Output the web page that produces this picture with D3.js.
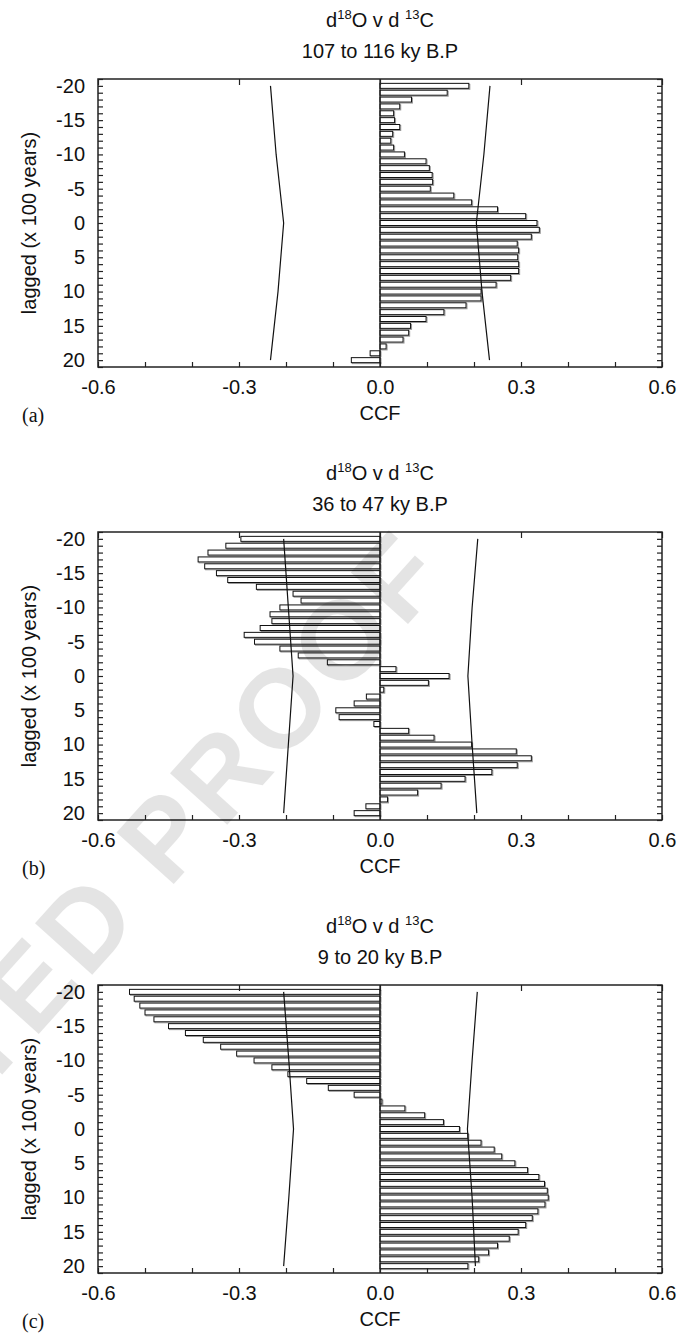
<!DOCTYPE html>
<html>
<head>
<meta charset="utf-8">
<script src="https://cdn.jsdelivr.net/npm/d3@7"></script>
<style>
  body { margin: 0; background: #fff; }
  svg text { font-family: "Liberation Sans", Arial, sans-serif; fill: #111; }
</style>
</head>
<body>
<svg id="chart" width="688" height="1335"></svg>
<script>
// Data.

var lags = [-20, -19, -18, -17, -16, -15, -14, -13, -12, -11, -10, -9, -8, -7, -6, -5, -4, -3, -2, -1,
            0, 1, 2, 3, 4, 5, 6, 7, 8, 9, 10, 11, 12, 13, 14, 15, 16, 17, 18, 19, 20];

// (a) 107 to 116 ky B.P
var ccf_a = [0.189, 0.143, 0.067, 0.042, 0.029, 0.031, 0.042, 0.027, 0.023, 0.029,
             0.052, 0.098, 0.105, 0.111, 0.112, 0.107, 0.157, 0.195, 0.250, 0.310,
             0.334, 0.339, 0.322, 0.292, 0.295, 0.293, 0.295, 0.295, 0.278, 0.247,
             0.215, 0.215, 0.183, 0.136, 0.098, 0.065, 0.061, 0.049, 0.013, -0.021, -0.061];

// (b) 36 to 47 ky B.P
var ccf_b = [-0.296, -0.328, -0.366, -0.387, -0.373, -0.348, -0.324, -0.263, -0.185, -0.168,
             -0.213, -0.234, -0.230, -0.255, -0.289, -0.267, -0.213, -0.174, -0.112, 0.034,
             0.147, 0.103, 0.008, -0.029, -0.055, -0.094, -0.087, -0.013, 0.061, 0.115,
             0.195, 0.290, 0.322, 0.292, 0.238, 0.181, 0.130, 0.080, 0.016, -0.030, -0.055];

// (c) 9 to 20 ky B.P
var ccf_c = [-0.533, -0.523, -0.511, -0.500, -0.481, -0.450, -0.414, -0.376, -0.339, -0.305,
             -0.268, -0.230, -0.196, -0.156, -0.110, -0.055, 0.004, 0.053, 0.095, 0.135,
             0.169, 0.187, 0.215, 0.243, 0.259, 0.287, 0.314, 0.338, 0.350, 0.356,
             0.358, 0.351, 0.336, 0.324, 0.310, 0.294, 0.275, 0.250, 0.231, 0.210, 0.187];

// Confidence limits (the two thin lines)
var conf_lags = [-20, -10, 0, 10, 20];
var conf_a_upper = [0.234, 0.221, 0.205, 0.217, 0.233];
var conf_a_lower = [-0.233, -0.221, -0.205, -0.217, -0.233];
var conf_b_upper = [0.208, 0.196, 0.187, 0.196, 0.206];
var conf_b_lower = [-0.205, -0.195, -0.185, -0.195, -0.205];
var conf_c_upper = [0.207, 0.196, 0.186, 0.196, 0.203];
var conf_c_lower = [-0.205, -0.194, -0.184, -0.194, -0.205];

var titles = ["107 to 116 ky B.P", "36 to 47 ky B.P", "9 to 20 ky B.P"];
var panel_letters = ["(a)", "(b)", "(c)"];

// Tick labels / tick marks
var x_ticks = [-0.6, -0.3, 0.0, 0.3, 0.6];
var x_minor_ticks = [-0.6, -0.5, -0.4, -0.3, -0.2, -0.1, 0.0, 0.1, 0.2, 0.3, 0.4, 0.5, 0.6];
var y_ticks = [-20, -15, -10, -5, 0, 5, 10, 15, 20];
var y_minor_ticks = [-21, -20, -19, -18, -17, -16, -15, -14, -13, -12, -11, -10, -9, -8, -7, -6, -5, -4, -3, -2, -1,
                     0, 1, 2, 3, 4, 5, 6, 7, 8, 9, 10, 11, 12, 13, 14, 15, 16, 17, 18, 19, 20, 21];

// Layout
var margin = {left: 98, top: 79};
var width = 564, height = 288, panel_step = 453;
var bar_height = 5;

var svg = d3.select("#chart");

function draw_title(g, subtitle) {
  // Two-line title with superscripts.
  var t = g.append("text")
    .attr("x", width / 2).attr("y", -52)
    .attr("text-anchor", "middle")
    .style("font-size", "20px");
  t.append("tspan").text("d");
  t.append("tspan").attr("dy", -8).style("font-size", "13px").text("18");
  t.append("tspan").attr("dy", 8).text("O v d ");
  t.append("tspan").attr("dy", -8).style("font-size", "13px").text("13");
  t.append("tspan").attr("dy", 8).text("C");

  g.append("text")
    .attr("x", width / 2).attr("y", -21)
    .attr("text-anchor", "middle")
    .style("font-size", "20px")
    .text(subtitle);
}

function draw_panel(i, values, upper, lower) {
  var g = svg.append("g")
    .attr("transform", "translate(" + margin.left + "," + (margin.top + i * panel_step) + ")");

  var x = d3.scaleLinear().domain([-0.6, 0.6]).range([0, width]);
  var y = d3.scaleLinear().domain([-21, 21]).range([0, height]);

  draw_title(g, titles[i]);

  // Bars: shadow first, then outlined white bar on top.
  var bars = g.append("g");
  bars.selectAll(".shadow")
    .data(values)
    .enter().append("rect")
    .attr("class", "shadow")
    .attr("x", function(d) { return x(Math.min(0, d)) + 1; })
    .attr("y", function(d, k) { return y(lags[k]) - bar_height / 2 + 1; })
    .attr("width", function(d) { return Math.abs(x(d) - x(0)); })
    .attr("height", bar_height)
    .attr("fill", "none")
    .attr("stroke", "#999")
    .attr("stroke-width", 1);
  bars.selectAll(".bar")
    .data(values)
    .enter().append("rect")
    .attr("class", "bar")
    .attr("x", function(d) { return x(Math.min(0, d)); })
    .attr("y", function(d, k) { return y(lags[k]) - bar_height / 2; })
    .attr("width", function(d) { return Math.abs(x(d) - x(0)); })
    .attr("height", bar_height)
    .attr("fill", "#fff")
    .attr("stroke", "#111")
    .attr("stroke-width", 1);

  // Zero line
  g.append("line")
    .attr("x1", x(0)).attr("x2", x(0))
    .attr("y1", 0).attr("y2", height)
    .attr("stroke", "#111").attr("stroke-width", 1.2);

  // Confidence lines
  var line = d3.line()
    .x(function(d) { return x(d[1]); })
    .y(function(d) { return y(d[0]); });
  [upper, lower].forEach(function(series) {
    g.append("path")
      .datum(d3.zip(conf_lags, series))
      .attr("fill", "none")
      .attr("stroke", "#111")
      .attr("stroke-width", 1.2)
      .attr("d", line);
  });

  // Tick marks (all point inwards)
  var tick_style = function(sel) {
    sel.select(".domain").remove();
    sel.selectAll("line").attr("stroke", "#222").attr("stroke-width", 1.2);
  };
  g.append("g").attr("transform", "translate(0," + height + ")")
    .call(d3.axisBottom(x).tickValues(x_minor_ticks).tickSize(-5).tickFormat(""))
    .call(tick_style);
  g.append("g")
    .call(d3.axisTop(x).tickValues(x_ticks).tickSize(-6).tickFormat(""))
    .call(tick_style);
  g.append("g")
    .call(d3.axisLeft(y).tickValues(y_minor_ticks).tickSize(-5).tickFormat(""))
    .call(tick_style);
  g.append("g").attr("transform", "translate(" + width + ",0)")
    .call(d3.axisRight(y).tickValues(y_minor_ticks).tickSize(-5).tickFormat(""))
    .call(tick_style);

  // Tick labels
  var xl = g.append("g").attr("transform", "translate(0," + height + ")")
    .call(d3.axisBottom(x).tickValues(x_ticks).tickSize(0).tickPadding(13)
      .tickFormat(function(d) { return d.toFixed(1); }));
  xl.select(".domain").remove();
  xl.selectAll("text").style("font-size", "20px").style("font-family", null).attr("fill", "#111");

  var yl = g.append("g")
    .call(d3.axisLeft(y).tickValues(y_ticks).tickSize(0).tickPadding(13)
      .tickFormat(function(d) { return String(d); }));
  yl.select(".domain").remove();
  yl.selectAll("text").style("font-size", "20px").style("font-family", null).attr("fill", "#111");

  // Frame
  g.append("rect")
    .attr("width", width).attr("height", height)
    .attr("fill", "none").attr("stroke", "#222").attr("stroke-width", 1.5);

  // Axis labels
  g.append("text")
    .attr("x", width / 2).attr("y", height + 53)
    .attr("text-anchor", "middle")
    .style("font-size", "20px")
    .text("CCF");
  g.append("text")
    .attr("transform", "translate(" + (36 - margin.left) + "," + (height / 2) + ") rotate(-90)")
    .attr("text-anchor", "middle")
    .style("font-size", "20px")
    .text("lagged (x 100 years)");
  g.append("text")
    .attr("x", 22 - margin.left).attr("y", height + 55)
    .style("font-family", "'Liberation Serif', 'Times New Roman', serif")
    .style("font-size", "20px")
    .text(panel_letters[i]);
}

draw_panel(0, ccf_a, conf_a_upper, conf_a_lower);
draw_panel(1, ccf_b, conf_b_upper, conf_b_lower);
draw_panel(2, ccf_c, conf_c_upper, conf_c_lower);

// Proof watermark across the middle panel
svg.append("text")
  .attr("transform", "translate(452,575) rotate(-48)")
  .attr("text-anchor", "end")
  .style("font-size", "112px")
  .style("font-weight", "bold")
  .style("letter-spacing", "5px")
  .style("fill", "#000")
  .style("opacity", 0.1)
  .text("UNCORRECTED PROOF");
</script>
</body>
</html>
